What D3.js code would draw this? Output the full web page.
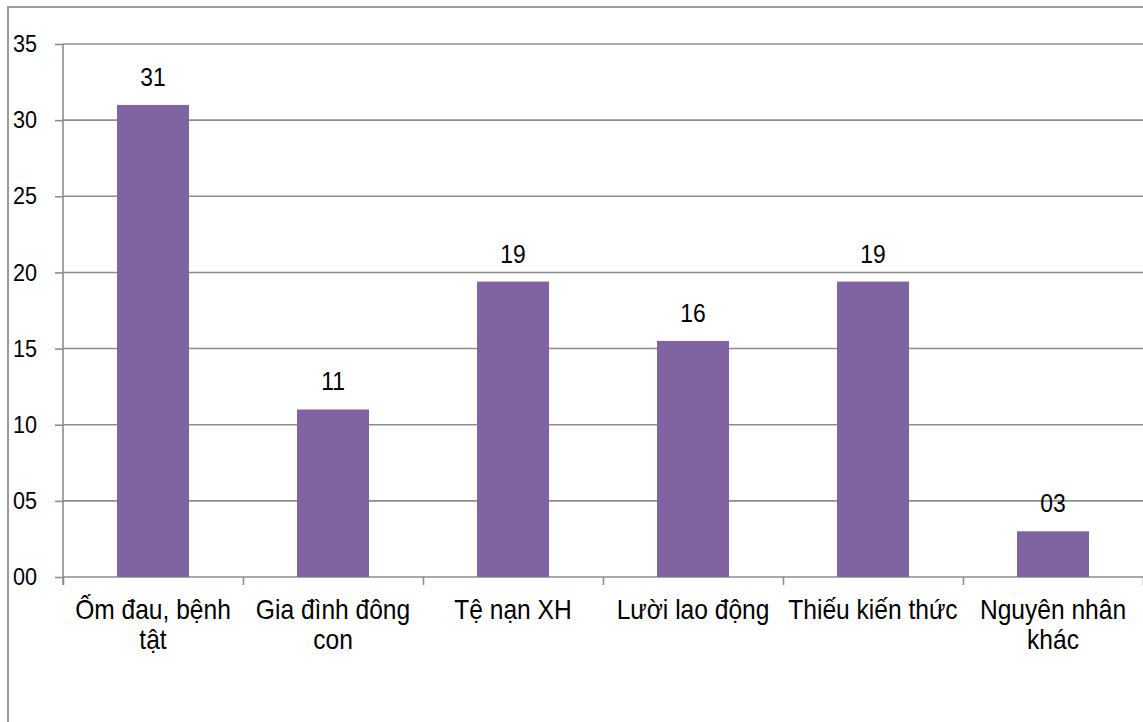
<!DOCTYPE html>
<html>
<head>
<meta charset="utf-8">
<script src="https://cdn.jsdelivr.net/npm/d3@7"></script>
<style>
  html, body { margin: 0; padding: 0; background: #fff; }
  svg { display: block; font-family: "Liberation Sans", Arial, sans-serif; }
</style>
</head>
<body>
<svg id="chart" width="1143" height="722"></svg>
<script>
// Causes of poverty (share of households)
const categories = [
  "Ốm đau, bệnh tật",
  "Gia đình đông con",
  "Tệ nạn XH",
  "Lười lao động",
  "Thiếu kiến thức",
  "Nguyên nhân khác"
];
const values = [31, 11, 19.4, 15.5, 19.4, 3];
const yTicks = [0, 5, 10, 15, 20, 25, 30, 35];

const W = 1143, H = 722;
const plotLeft = 63, plotRight = 1143, plotTop = 44, plotBottom = 577;
// glyphs are set slightly condensed
const squeeze = 0.91;

const svg = d3.select("#chart");

// outer frame (left and top edges visible)
svg.append("path")
  .attr("d", `M8,${H} L8,7 L${W},7`)
  .attr("fill", "none")
  .attr("stroke", "#9a9a9a")
  .attr("stroke-width", 2);

const x = d3.scaleBand()
  .domain(categories)
  .range([plotLeft, plotRight])
  .paddingInner(0.6)
  .paddingOuter(0.3);

const y = d3.scaleLinear().domain([0, 35]).range([plotBottom, plotTop]);

const fmt = d3.format("02.0f");

// horizontal gridlines
svg.append("g")
  .selectAll("line")
  .data(yTicks.filter(d => d > 0))
  .join("line")
  .attr("x1", plotLeft)
  .attr("x2", plotRight)
  .attr("y1", d => y(d))
  .attr("y2", d => y(d))
  .attr("stroke", "#8c8c8c")
  .attr("stroke-width", 1.6);

// y axis
const yAxis = svg.append("g")
  .attr("transform", `translate(${plotLeft},0)`)
  .call(d3.axisLeft(y).tickValues(yTicks).tickFormat(fmt).tickSize(8).tickPadding(18));
yAxis.select(".domain").attr("stroke", "#8c8c8c").attr("stroke-width", 1.6)
  .attr("d", `M0,${plotTop}V${plotBottom + 8}`);
yAxis.selectAll(".tick line").attr("stroke", "#8c8c8c").attr("stroke-width", 1.6);
yAxis.selectAll(".tick text")
  .attr("fill", "#000")
  .attr("x", 0)
  .attr("transform", `translate(-26,0) scale(0.9,1)`)
  .style("font-size", "24px")
  .style("font-family", "'Liberation Sans', Arial, sans-serif");

// x axis with ticks at category boundaries
const xb = d3.scaleLinear().domain([0, categories.length]).range([plotLeft, plotRight]);
const xAxis = svg.append("g")
  .attr("transform", `translate(0,${plotBottom})`)
  .call(d3.axisBottom(xb).tickValues(d3.range(categories.length + 1)).tickSize(8).tickFormat(""));
xAxis.select(".domain").attr("stroke", "#8c8c8c").attr("stroke-width", 1.6)
  .attr("d", `M${plotLeft},0H${plotRight}`);
xAxis.selectAll(".tick line").attr("stroke", "#8c8c8c").attr("stroke-width", 1.6);

// bars
svg.append("g")
  .selectAll("rect")
  .data(values)
  .join("rect")
  .attr("x", (d, i) => x(categories[i]))
  .attr("width", x.bandwidth())
  .attr("y", d => y(d))
  .attr("height", d => y(0) - y(d))
  .attr("fill", "#8064A2");

// value labels above bars
svg.append("g")
  .selectAll("text")
  .data(values)
  .join("text")
  .attr("transform", (d, i) =>
    `translate(${x(categories[i]) + x.bandwidth() / 2},${y(d) - 19}) scale(0.88,1)`)
  .attr("text-anchor", "middle")
  .attr("fill", "#000")
  .style("font-size", "26px")
  .text(d => fmt(d));

// category labels, wrapped to the band step
const step = x.step();
const catG = svg.append("g");
categories.forEach((c, i) => {
  const cx = x(c) + x.bandwidth() / 2;
  const t = catG.append("text")
    .attr("transform", `translate(${cx},${plotBottom + 42}) scale(${squeeze},1)`)
    .attr("text-anchor", "middle")
    .attr("fill", "#000")
    .style("font-size", "27px");
  const words = c.split(" ");
  let line = [];
  let tspan = t.append("tspan").attr("x", 0).attr("dy", 0);
  words.forEach(w => {
    line.push(w);
    tspan.text(line.join(" "));
    if (tspan.node().getComputedTextLength() * squeeze > step - 4 && line.length > 1) {
      line.pop();
      tspan.text(line.join(" "));
      line = [w];
      tspan = t.append("tspan").attr("x", 0).attr("dy", 30).text(w);
    }
  });
});
</script>
</body>
</html>
